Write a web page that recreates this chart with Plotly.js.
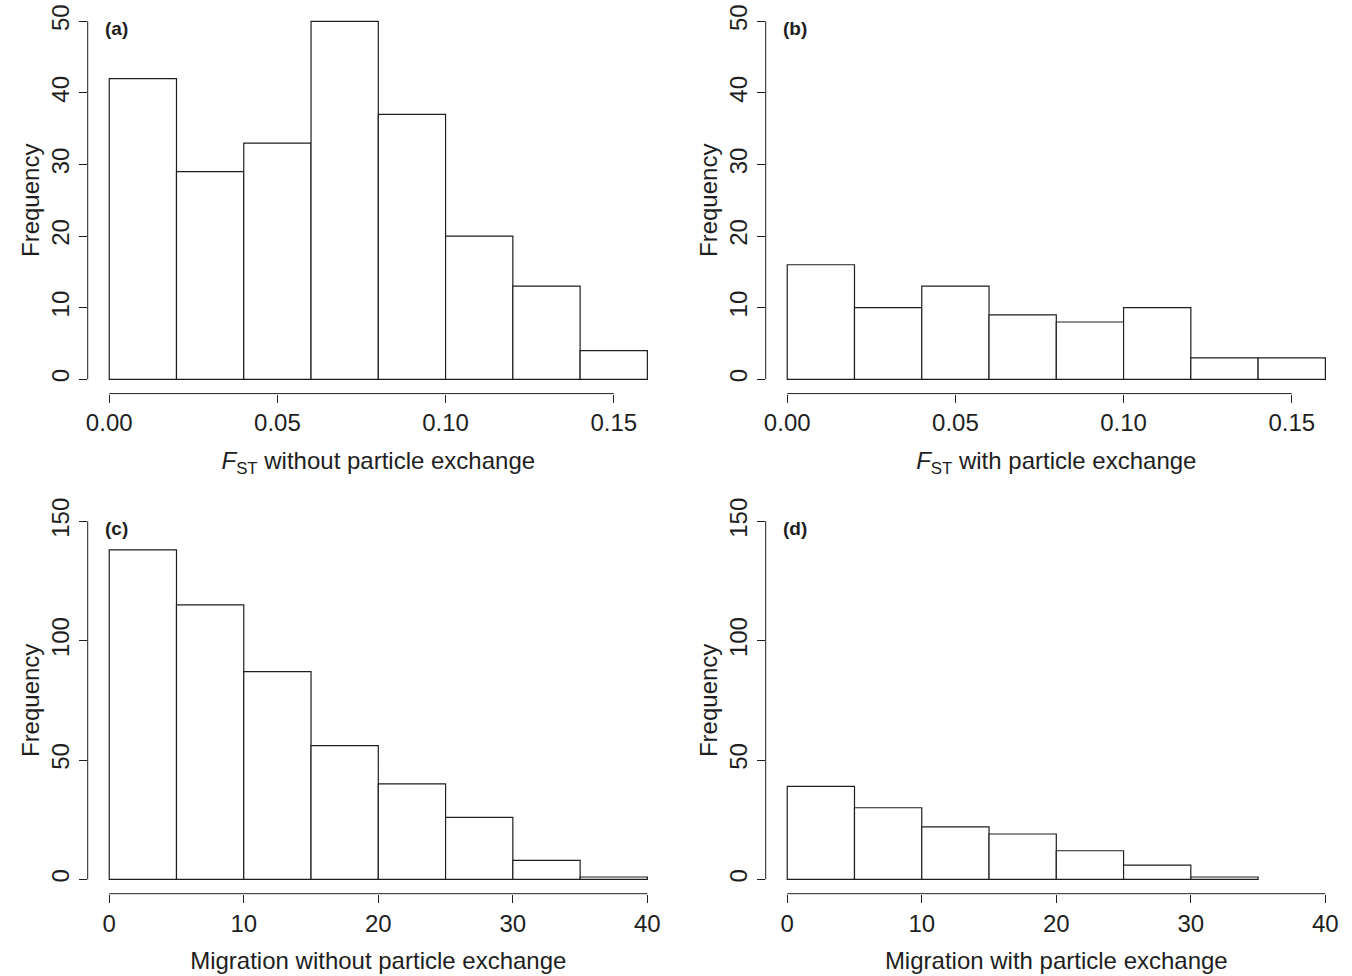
<!DOCTYPE html>
<html>
<head>
<meta charset="utf-8">
<script src="https://cdn.plot.ly/plotly-3.0.1.min.js"></script>
<style>html,body{margin:0;padding:0;background:#fff;}#chart{width:1352px;height:976px;}</style>
</head>
<body>
<div id="chart"></div>
<script>
// ---- data ----
const fstBreaks = [0, 0.02, 0.04, 0.06, 0.08, 0.10, 0.12, 0.14, 0.16];
const countsA = [42, 29, 33, 50, 37, 20, 13, 4];   // FST without particle exchange
const countsB = [16, 10, 13, 9, 8, 10, 3, 3];      // FST with particle exchange
const migBreaks = [0, 5, 10, 15, 20, 25, 30, 35, 40];
const countsC = [138, 115, 87, 56, 40, 26, 8, 1];  // Migration without particle exchange
const countsD = [39, 30, 22, 19, 12, 6, 1];        // Migration with particle exchange

const fstTicks = [0, 0.05, 0.10, 0.15];
const fstTickText = ['0.00', '0.05', '0.10', '0.15'];
const migTicks = [0, 10, 20, 30, 40];
const migTickText = ['0', '10', '20', '30', '40'];
const freqTicksTop = [0, 10, 20, 30, 40, 50];
const freqTicksBottom = [0, 50, 100, 150];

const panelLabels = ['(a)', '(b)', '(c)', '(d)'];
const xTitles = [
  '<i>F</i><sub>ST</sub> without particle exchange',
  '<i>F</i><sub>ST</sub> with particle exchange',
  'Migration without particle exchange',
  'Migration with particle exchange'
];
const yTitle = 'Frequency';

// ---- helpers ----
const INK = '#1e1e1e';
const FONT = 'Liberation Sans, Arial, Helvetica, sans-serif';
const FS = 24;

function histTrace(breaks, counts, xa, ya) {
  const x = [], w = [];
  for (let i = 0; i < counts.length; i++) {
    x.push((breaks[i] + breaks[i + 1]) / 2);
    w.push(breaks[i + 1] - breaks[i]);
  }
  return {
    type: 'bar', x: x, y: counts, width: w, base: 0,
    xaxis: xa, yaxis: ya,
    marker: {color: '#ffffff', line: {color: INK, width: 1.2}},
    hoverinfo: 'x+y', showlegend: false
  };
}

function padRange(lo, hi) { const p = (hi - lo) * 0.04; return [lo - p, hi + p]; }

const W = 1352, H = 976;
const xDomL = [87.7 / W, 668.9 / W];
const xDomR = [765.7 / W, 1346.9 / W];
const yDomT = [1 - 393.6 / H, 1 - 7 / H];
const yDomB = [1 - 893.7 / H, 1 - 507 / H];

const panels = [
  {breaks: fstBreaks, counts: countsA, xd: xDomL, yd: yDomT, ticks: fstTicks, tt: fstTickText, yt: freqTicksTop},
  {breaks: fstBreaks, counts: countsB, xd: xDomR, yd: yDomT, ticks: fstTicks, tt: fstTickText, yt: freqTicksTop},
  {breaks: migBreaks, counts: countsC, xd: xDomL, yd: yDomB, ticks: migTicks, tt: migTickText, yt: freqTicksBottom},
  {breaks: migBreaks, counts: countsD, xd: xDomR, yd: yDomB, ticks: migTicks, tt: migTickText, yt: freqTicksBottom}
];

const data = [];
const layout = {
  width: W, height: H,
  margin: {l: 0, r: 0, t: 0, b: 0},
  paper_bgcolor: '#ffffff', plot_bgcolor: '#ffffff',
  font: {family: FONT, color: INK, size: FS},
  bargap: 0,
  showlegend: false,
  shapes: [], annotations: []
};

panels.forEach((p, i) => {
  const n = i + 1;
  const xa = 'x' + (n === 1 ? '' : n), ya = 'y' + (n === 1 ? '' : n);
  const xk = 'xaxis' + (n === 1 ? '' : n), yk = 'yaxis' + (n === 1 ? '' : n);
  data.push(histTrace(p.breaks, p.counts, xa, ya));
  const xr = padRange(p.breaks[0], p.breaks[p.breaks.length - 1]);
  const yr = padRange(p.yt[0], p.yt[p.yt.length - 1]);
  layout[xk] = {
    domain: p.xd, anchor: ya, range: xr, showgrid: false, zeroline: false, showline: false,
    tickmode: 'array', tickvals: p.ticks, ticktext: p.tt,
    ticks: 'outside', ticklen: 8, tickwidth: 1, tickcolor: INK,
    tickfont: {family: FONT, size: FS, color: INK},
    title: {text: xTitles[i], font: {family: FONT, size: FS, color: INK}, standoff: 16},
    automargin: false, fixedrange: true
  };
  layout[yk] = {
    domain: p.yd, anchor: xa, range: yr, showgrid: false, zeroline: false, showline: false,
    tickmode: 'array', tickvals: p.yt, ticktext: p.yt.map(String),
    ticks: 'outside', ticklen: 8, tickwidth: 1, tickcolor: INK, tickangle: -90,
    tickfont: {family: FONT, size: FS, color: INK},
    title: {text: yTitle, font: {family: FONT, size: FS, color: INK}, standoff: 0},
    automargin: false, fixedrange: true
  };
  // R-style detached axis lines spanning only the tick range
  layout.shapes.push({
    type: 'line', xref: xa + ' domain', yref: ya,
    x0: 0, x1: 0, y0: p.yt[0], y1: p.yt[p.yt.length - 1],
    line: {color: INK, width: 1}
  });
  layout.shapes.push({
    type: 'line', xref: xa, yref: ya + ' domain',
    x0: p.ticks[0], x1: p.ticks[p.ticks.length - 1], y0: 0, y1: 0,
    line: {color: INK, width: 1}
  });
  layout.annotations.push({
    text: '<b>' + panelLabels[i] + '</b>', xref: xa + ' domain', yref: ya + ' domain',
    x: 0.026, y: 0.945, xanchor: 'left', yanchor: 'middle', showarrow: false,
    font: {family: FONT, size: 19, color: INK}
  });
});

Plotly.newPlot('chart', data, layout, {displayModeBar: false, staticPlot: true});
</script>
</body>
</html>
